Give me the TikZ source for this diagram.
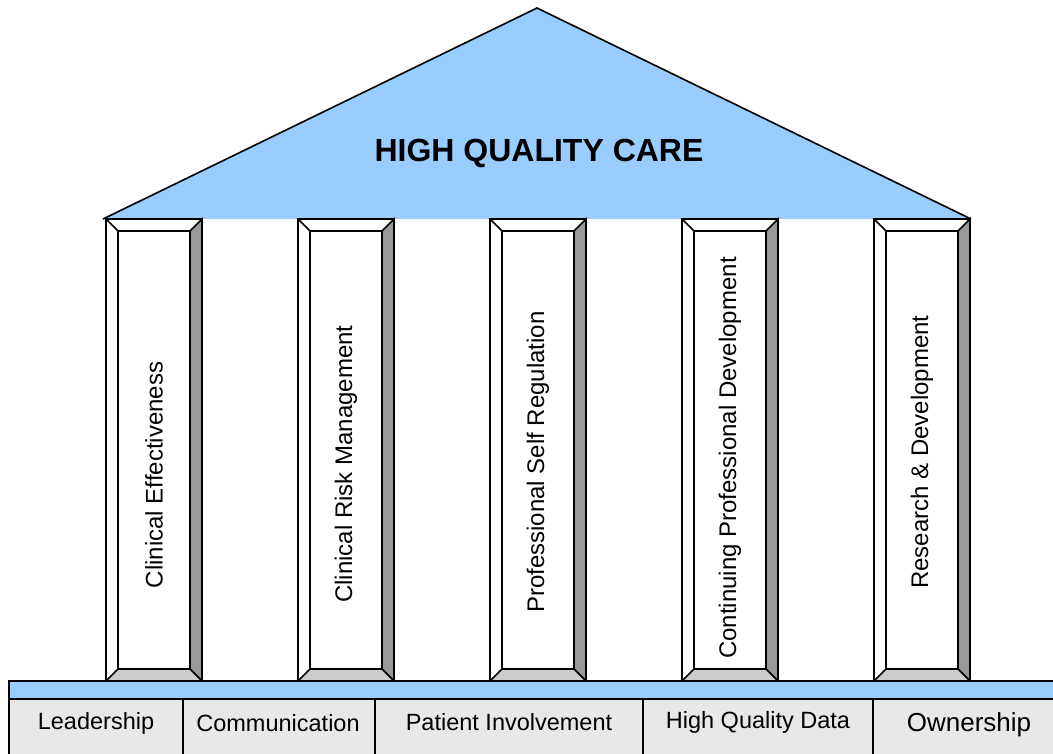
\documentclass[tikz,border=0pt]{standalone}
\usepackage{fontspec}
\setmainfont{Liberation Sans}
\definecolor{roofblue}{HTML}{99CCFF}
\definecolor{sidegray}{HTML}{999999}
\definecolor{botgray}{HTML}{CCCCCC}
\definecolor{basegray}{HTML}{E8E8E8}
\tikzset{
  outline/.style={draw=black, line width=1.6pt, line join=miter},
  pillartext/.style={rotate=90, font=\fontsize{24}{28}\selectfont, inner sep=0pt},
  baselabel/.style={font=\fontsize{23.5}{28}\selectfont, inner sep=0pt},
  titletext/.style={font=\fontsize{32}{38}\selectfont\bfseries, inner sep=0pt}
}
\begin{document}
\begin{tikzpicture}[x=1pt,y=-1pt]
\useasboundingbox (0,0) rectangle (1053,753);
\begin{scope}
\clip (0,0) rectangle (1053,753);
% roof
\coordinate (roofL) at (103,219);
\coordinate (roofT) at (537,8);
\coordinate (roofR) at (971,219);
\fill[roofblue] (roofL) -- (roofT) -- (roofR) -- cycle;
\draw[outline] (roofL) -- (roofT) -- (roofR);
\node[titletext] (title) at (539,153) {HIGH QUALITY CARE};
% pillars
\foreach \i/\ty/\txt in {0/475/Clinical Effectiveness,1/464/Clinical Risk Management,2/462/Professional Self Regulation,3/458/Continuing Professional Development,4/452/Research \& Development}{
  \pgfmathsetmacro{\ox}{106+192*\i}
  \pgfmathsetmacro{\oxr}{\ox+96}
  \pgfmathsetmacro{\ix}{\ox+12}
  \pgfmathsetmacro{\ixr}{\oxr-12}
  \pgfmathsetmacro{\cx}{\ox+48}
  \draw[outline, fill=white] (\ox,219) rectangle (\oxr,681);
  \draw[outline, fill=sidegray] (\oxr,219) -- (\ixr,231) -- (\ixr,669) -- (\oxr,681) -- cycle;
  \draw[outline, fill=botgray] (\ox,681) -- (\ix,669) -- (\ixr,669) -- (\oxr,681) -- cycle;
  \draw[outline] (\ix,231) rectangle (\ixr,669);
  \draw[outline] (\ox,219) -- (\ix,231);
  \node[pillartext] (p\i) at (\cx,\ty) {\txt};
}
% base
\draw[outline, fill=roofblue] (9,681) rectangle (1070,699);
\draw[outline, fill=basegray] (9,699) rectangle (183,770);
\draw[outline, fill=basegray] (183,699) rectangle (375,770);
\draw[outline, fill=basegray] (375,699) rectangle (643,770);
\draw[outline, fill=basegray] (643,699) rectangle (873,770);
\draw[outline, fill=basegray] (873,699) rectangle (1070,770);
\node[baselabel] (b1) at (96,723) {Leadership};
\node[baselabel] (b2) at (278,723) {Communication};
\node[baselabel] (b3) at (509,722) {Patient Involvement};
\node[baselabel] (b4) at (758,722) {High Quality Data};
\node[baselabel, font=\fontsize{26}{30}\selectfont] (b5) at (969,725) {Ownership};
\end{scope}
\end{tikzpicture}
\end{document}
